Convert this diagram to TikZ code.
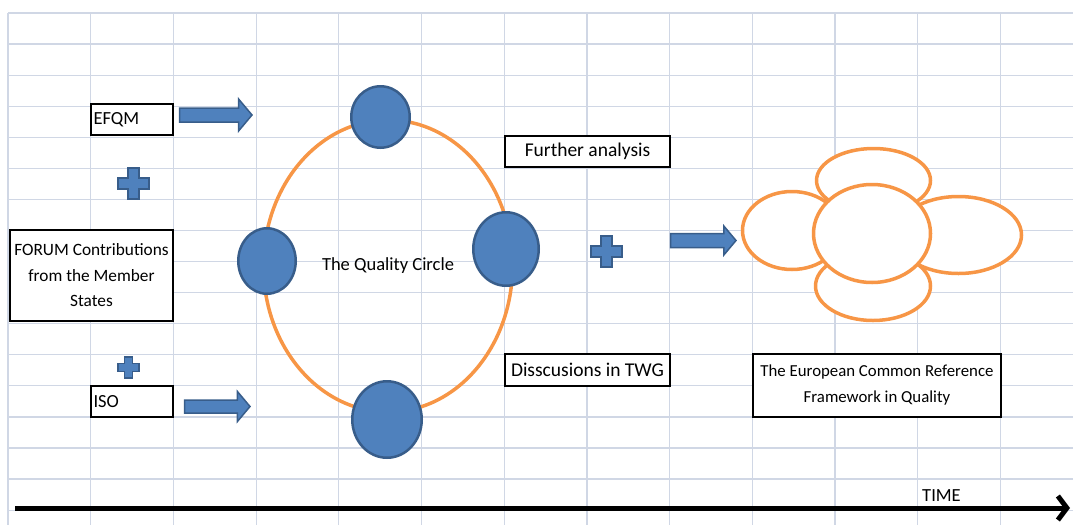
\documentclass[tikz,border=0pt]{standalone}
\usepackage{fontspec}
\setmainfont{Carlito}
\usetikzlibrary{shapes.geometric,shapes.arrows,arrows.meta}

\definecolor{gridgray}{RGB}{208,215,229}
\definecolor{qblue}{RGB}{79,129,189}
\definecolor{qblueline}{RGB}{56,93,138}
\definecolor{qorange}{RGB}{247,150,70}

\tikzset{
  gridline/.style={gridgray, line width=1.2pt},
  labelbox/.style={draw=black, line width=2.3pt, fill=white, inner sep=0pt, font=\fontsize{18.5}{22}\selectfont},
  bluedot/.style={ellipse, draw=qblueline, line width=2.5pt, fill=qblue, inner sep=0pt},
  petal/.style={ellipse, draw=qorange, line width=3.5pt, fill=white, inner sep=0pt},
  blockarrow/.style={single arrow, draw=qblueline, fill=qblue, line width=1.5pt, inner xsep=0pt, single arrow head indent=0pt, single arrow tip angle=100},
  timeaxis/.style={line width=5pt, -{Straight Barb[length=9pt,width=24pt]}},
  plusmark/.pic={
    \filldraw[fill=qblue, draw=qblueline, line width=1.5pt] (-1,-.36) -- (-.36,-.36) -- (-.36,-1) -- (.36,-1) -- (.36,-.36) -- (1,-.36)
      -- (1,.36) -- (.36,.36) -- (.36,1) -- (-.36,1) -- (-.36,.36) -- (-1,.36) -- cycle;
  }
}

\begin{document}
\begin{tikzpicture}[x=1pt, y=-1pt]
    \useasboundingbox (0,0) rectangle (1073,525);

    % 绘制网格
    \foreach \gx in {0,...,12}
        \draw[gridline] ({8+82.7*\gx},13) -- ({8+82.7*\gx},525);
    \foreach \gy in {0,...,16}
        \draw[gridline] (8,{13+31.07*\gy}) -- (1073,{13+31.07*\gy});

    % 左侧方框
    \node[labelbox, minimum width=82pt, minimum height=31pt, text width=77pt, inner xsep=2.5pt, align=left] (efqm) at (132,119.5) {EFQM};
    \node[labelbox, minimum width=163pt, minimum height=91pt, align=center, font=\fontsize{17.3}{25.5}\selectfont] (forum) at (91.5,275.5) {FORUM Contributions\\from the Member\\States};
    \node[labelbox, minimum width=82pt, minimum height=31pt, text width=77pt, inner xsep=2.5pt, align=left] (iso) at (132,401.5) {ISO};

    % 加号
    \pic[scale=15.5] at (133.5,183.5) {plusmark};
    \pic[scale=10.5] at (128.5,367.5) {plusmark};
    \pic[scale=15.5] at (606.5,251.5) {plusmark};

    % 箭头
    \node[blockarrow, inner ysep=6.25pt, single arrow head extend=9pt, minimum height=72.5pt, anchor=tail] (arrefqm) at (178.75,115) {};
    \node[blockarrow, inner ysep=5.75pt, single arrow head extend=8.5pt, minimum height=65.5pt, anchor=tail] (arriso) at (183.75,406.5) {};
    \node[blockarrow, inner ysep=6.25pt, single arrow head extend=7.5pt, minimum height=65.5pt, anchor=tail] (arrecrf) at (669.75,240.5) {};

    % 质量圈
    \node[ellipse, draw=qorange, line width=3.5pt, inner sep=0pt, minimum width=249pt, minimum height=292pt, font=\fontsize{18.5}{22}\selectfont] (qcircle) at (388,266) {The Quality Circle};
    \node[bluedot, minimum width=58.5pt, minimum height=61.5pt] (qtop) at (380.5,117) {};
    \node[bluedot, minimum width=57.5pt, minimum height=65.5pt] (qleft) at (267,261) {};
    \node[bluedot, minimum width=65.5pt, minimum height=73.5pt] (qright) at (506,249) {};
    \node[bluedot, minimum width=69.5pt, minimum height=76.5pt] (qbottom) at (387,419.5) {};

    % 中间方框
    \node[labelbox, minimum width=165pt, minimum height=31pt, font=\fontsize{19.5}{23}\selectfont] (further) at (587.5,151.5) {Further analysis};
    \node[labelbox, minimum width=165pt, minimum height=32pt, font=\fontsize{19.5}{23}\selectfont] (twg) at (587.5,370) {Disscusions in TWG};

    % 花形
    \node[petal, minimum width=99pt, minimum height=78pt] (pleft) at (792,230.5) {};
    \node[petal, minimum width=114pt, minimum height=64pt] (ptop) at (873.5,180.5) {};
    \node[petal, minimum width=126pt, minimum height=77pt] (pright) at (958.5,235) {};
    \node[petal, minimum width=115pt, minimum height=69pt] (pbottom) at (873,286) {};
    \node[petal, minimum width=117pt, minimum height=98pt] (pcenter) at (872,233.5) {};

    % 右侧方框
    \node[labelbox, minimum width=248pt, minimum height=63pt, align=center, font=\fontsize{16.8}{26}\selectfont] (ecrf) at (877,385.5) {The European Common Reference\\Framework in Quality};

    % 时间轴
    \coordinate (tstart) at (15,508);
    \coordinate (tend) at (1070,508);
    \draw[timeaxis] (tstart) -- (tend);
    \node[font=\fontsize{18.5}{22}\selectfont] (timelabel) at (941.5,495.5) {TIME};
\end{tikzpicture}
\end{document}
